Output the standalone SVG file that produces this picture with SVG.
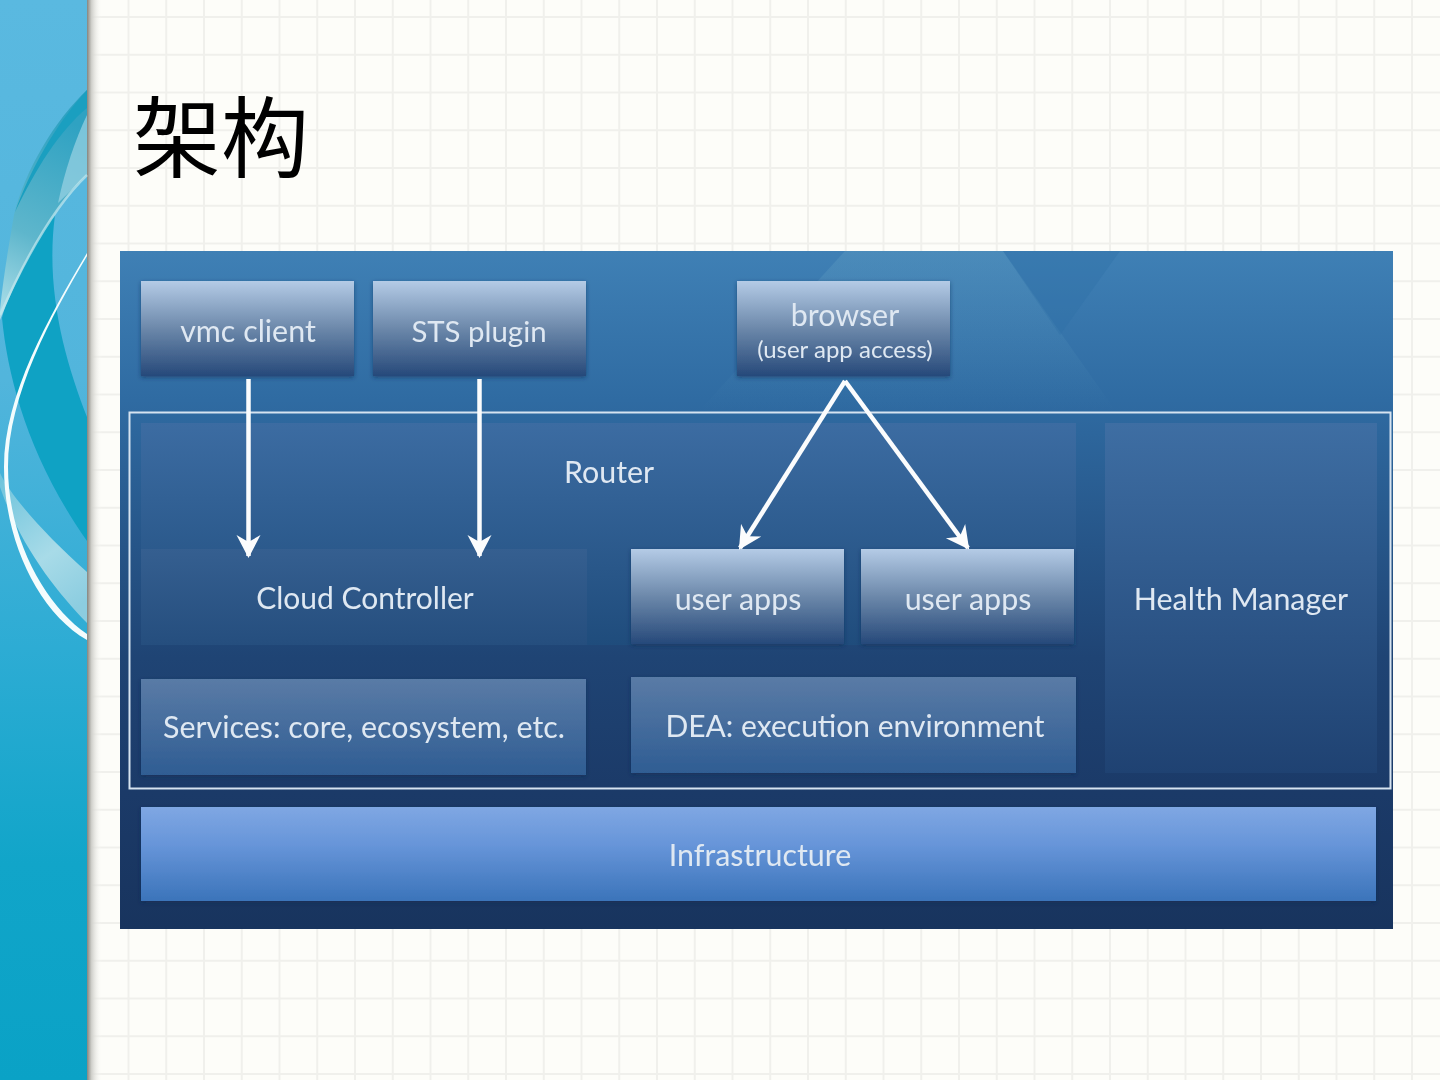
<svg xmlns="http://www.w3.org/2000/svg" width="1440" height="1080" viewBox="0 0 1440 1080">
<defs>
<style>
text{font-family:Lato,"Open Sans",sans-serif;fill:#dfe8f2;text-anchor:middle;font-size:30.400px;filter:url(#soft)}
.lite{stroke:#fbfcfd;stroke-width:4.500;fill:none;marker-end:url(#arr)}
.node{filter:url(#drop)}
</style>
<marker id="arr" viewBox="0 0 24 26" refX="21" refY="13" markerUnits="userSpaceOnUse" markerWidth="24" markerHeight="26" orient="auto"><path d="M0 1 L23 13 L0 25 L7 13 Z" fill="#fbfcfd"/></marker>
<pattern id="gridp" patternUnits="userSpaceOnUse" x="109.625" y="-1.875" width="37.750" height="37.750"><path d="M18.875 0V37.750M0 18.875H37.750" stroke="#f0f0ec" stroke-width="2" fill="none"/></pattern>
<linearGradient id="side" x1="0" y1="0" x2="0" y2="1"><stop offset="0" stop-color="#5ab9e0"/><stop offset=".35" stop-color="#52b5dc"/><stop offset=".6" stop-color="#2dacd4"/><stop offset=".8" stop-color="#11a5c9"/><stop offset="1" stop-color="#0aa2c6"/></linearGradient>
<linearGradient id="shadow" x1="0" y1="0" x2="1" y2="0"><stop offset="0" stop-color="#85857f"/><stop offset=".3" stop-color="#cfcfca"/><stop offset="1" stop-color="#fdfdf9" stop-opacity="0"/></linearGradient>
<linearGradient id="panel" x1="0" y1="0" x2="0" y2="1"><stop offset="0" stop-color="#3f80b5"/><stop offset=".22" stop-color="#2f6ba2"/><stop offset=".6" stop-color="#1f4474"/><stop offset=".8" stop-color="#1b3a68"/><stop offset="1" stop-color="#18345e"/></linearGradient>
<linearGradient id="box" x1="0" y1="0" x2="0" y2="1"><stop offset="0" stop-color="#b4cbe6"/><stop offset=".5" stop-color="#6c88aa"/><stop offset="1" stop-color="#26497a"/></linearGradient>
<linearGradient id="dark" x1="0" y1="0" x2="0" y2="1"><stop offset="0" stop-color="#3c6ca2"/><stop offset="1" stop-color="#1f4c7c"/></linearGradient>
<linearGradient id="cc" x1="0" y1="0" x2="0" y2="1"><stop offset="0" stop-color="#355f90"/><stop offset="1" stop-color="#254e7e"/></linearGradient>
<linearGradient id="svc" x1="0" y1="0" x2="0" y2="1"><stop offset="0" stop-color="#5a7ba6"/><stop offset="1" stop-color="#2f5d93"/></linearGradient>
<linearGradient id="hm" x1="0" y1="0" x2="0" y2="1"><stop offset="0" stop-color="#3e6ea3"/><stop offset="1" stop-color="#1f4272"/></linearGradient>
<linearGradient id="infra" x1="0" y1="0" x2="0" y2="1"><stop offset="0" stop-color="#7fa7e3"/><stop offset=".4" stop-color="#6795d9"/><stop offset="1" stop-color="#3b74ba"/></linearGradient>
<linearGradient id="glow" x1="0" y1="0" x2="0" y2="1"><stop offset="0" stop-color="#6aa8c8" stop-opacity=".28"/><stop offset="1" stop-color="#6aa8c8" stop-opacity="0"/></linearGradient>
<linearGradient id="swoosh" gradientUnits="userSpaceOnUse" x1="0" y1="310" x2="87" y2="130"><stop offset="0" stop-color="#a9dde8"/><stop offset=".4" stop-color="#5eb6cc"/><stop offset="1" stop-color="#2fa2c2"/></linearGradient>
<linearGradient id="band" gradientUnits="userSpaceOnUse" x1="0" y1="480" x2="87" y2="600"><stop offset="0" stop-color="#6fc4dc"/><stop offset=".6" stop-color="#a8dbe8"/><stop offset="1" stop-color="#8ccde0"/></linearGradient>
<filter id="soft" x="-5%" y="-20%" width="110%" height="140%"><feGaussianBlur stdDeviation=".45"/></filter>
<filter id="drop" x="-5%" y="-10%" width="110%" height="125%"><feDropShadow dx="0" dy="1.500" stdDeviation="2" flood-color="#10294f" flood-opacity=".55"/></filter>
</defs>
<rect width="1440" height="1080" fill="#fdfdf9"/>
<rect x="88" width="1352" height="1080" fill="url(#gridp)"/>
<rect x="87" y="0" width="15" height="1080" fill="url(#shadow)"/>
<g id="sidebar">
<rect width="87" height="1080" fill="url(#side)"/>
<path d="M55 215 C25 250 10 285 2 318 C8 380 30 460 87 541 L87 417 C65 360 45 290 55 215 Z" fill="#0fa2c4"/>
<path d="M87 90 C55 120 25 170 14 215 C8 250 3 280 0 310 L0 320 C20 270 50 210 87 175 Z" fill="url(#swoosh)"/>
<path d="M87 90 C55 125 30 170 15 212 C35 170 60 130 87 108 Z" fill="#1a9fc0"/>
<path d="M87 115 C75 140 65 170 58 203 L87 175 Z" fill="#9bd3e4" opacity=".7"/>
<path d="M0 315 C20 270 50 210 87 175" fill="none" stroke="#c5e8ee" stroke-width="2.500" opacity=".7"/>
<path d="M0 473 C10 495 45 535 87 572 L87 623 C55 590 20 545 0 487 Z" fill="url(#band)"/>
<path d="M87 253 C50 315 4 395 4 467 C4 540 38 612 87 640 L87 634 C46 606 8 540 8 467 C8 395 52 315 87 256 Z" fill="#f4fcfd"/>
</g>
<text id="title" x="221" y="170" style="font-family:'Noto Sans CJK SC','Noto Sans CJK JP',sans-serif;font-size:88px;fill:#000;filter:none">架构</text>
<rect id="panel" x="120" y="251" width="1273" height="678" fill="url(#panel)"/>
<path d="M845 251 H1003 L1115 410 H700 Z" fill="url(#glow)"/>
<path d="M1003 251 H1120 L1060 335 Z" fill="#2f70a6" opacity=".35"/>
<rect x="129.500" y="412.500" width="1261" height="376" fill="none" stroke="#d6e3f0" stroke-width="2"/>
<g id="router"><rect x="141" y="423" width="935" height="222" fill="url(#dark)"/><text x="609" y="483">Router</text></g>
<g id="vmc"><rect class="node" x="141" y="281" width="213" height="95" fill="url(#box)"/><text x="248" y="342">vmc client</text></g>
<g id="sts"><rect class="node" x="373" y="281" width="213" height="95" fill="url(#box)"/><text x="479" y="342" style="font-size:29.400px">STS plugin</text></g>
<g id="browser"><rect class="node" x="737" y="281" width="213" height="95" fill="url(#box)"/><text x="845" y="326">browser</text><text x="845" y="358" style="font-size:24px">(user app access)</text></g>
<g id="cloud"><rect x="141" y="549" width="446" height="96" fill="url(#cc)"/><text x="365" y="609" style="font-size:30px">Cloud Controller</text></g>
<g id="apps1"><rect class="node" x="631" y="549" width="213" height="95" fill="url(#box)"/><text x="738" y="610">user apps</text></g>
<g id="apps2"><rect class="node" x="861" y="549" width="213" height="95" fill="url(#box)"/><text x="968" y="610">user apps</text></g>
<g id="services"><rect class="node" x="141" y="679" width="445" height="96" fill="url(#svc)"/><text x="364" y="738">Services: core, ecosystem, etc.</text></g>
<g id="dea"><rect class="node" x="631" y="677" width="445" height="96" fill="url(#svc)"/><text x="855" y="737" style="font-size:30px">DEA: execution environment</text></g>
<g id="health"><rect x="1105" y="423" width="272" height="350" fill="url(#hm)"/><text x="1241" y="610">Health Manager</text></g>
<g id="infrastructure"><rect class="node" x="141" y="807" width="1235" height="94" fill="url(#infra)"/><text x="760" y="866">Infrastructure</text></g>
<g id="connectors">
<line class="lite" x1="248.500" y1="379" x2="248.500" y2="556"/>
<line class="lite" x1="479.500" y1="379" x2="479.500" y2="556"/>
<line class="lite" x1="845" y1="381" x2="740" y2="548"/>
<line class="lite" x1="845" y1="381" x2="968" y2="548"/>
</g>
</svg>
